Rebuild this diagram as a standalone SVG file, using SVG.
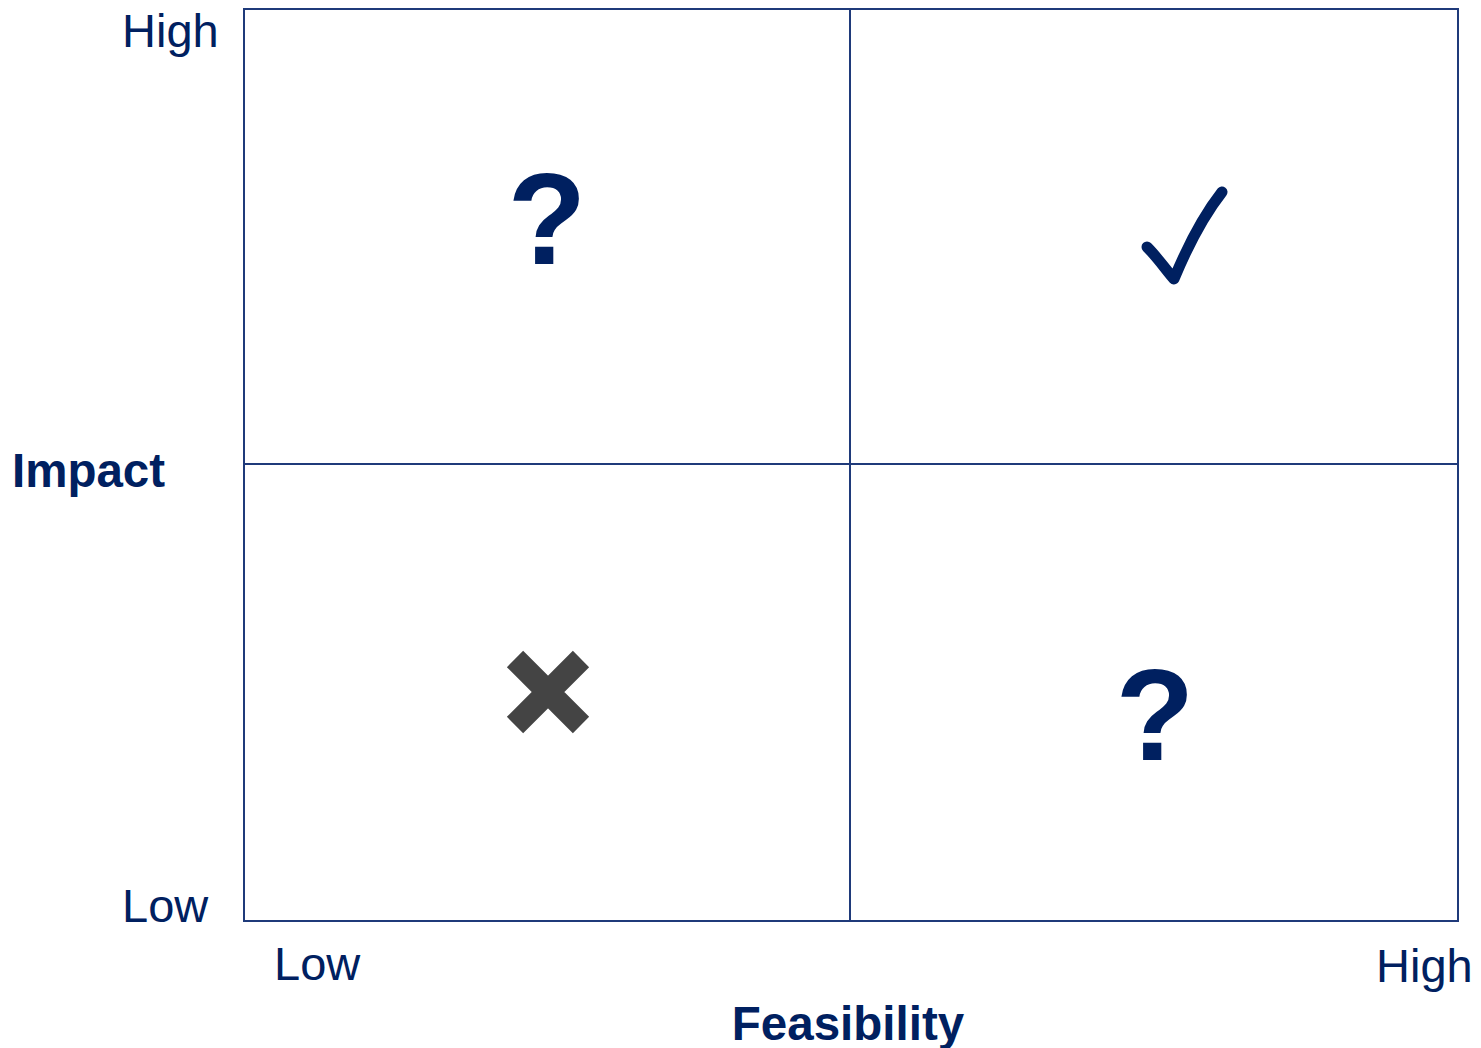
<svg xmlns="http://www.w3.org/2000/svg" width="1481" height="1048" viewBox="0 0 1481 1048">
<style>
.lbl{font-family:"Liberation Sans",Arial,sans-serif;font-size:47px;fill:#002060}
.ttl{font-family:"Liberation Sans",Arial,sans-serif;font-size:47.5px;font-weight:bold;fill:#002060}
.q{font-family:"Liberation Sans",Arial,sans-serif;font-size:129px;font-weight:bold;fill:#002060}
.grid{fill:none;stroke:#1f3a7a;stroke-width:2}
</style>
<rect width="1481" height="1048" fill="#fff"/>
<g id="connectors">
<rect class="grid" x="244" y="9" width="1214" height="912"/>
<line class="grid" x1="850" y1="9" x2="850" y2="921"/>
<line class="grid" x1="244" y1="464" x2="1458" y2="464"/>
</g>
<g id="axis-labels">
<text class="lbl" x="122" y="47">High</text>
<text class="lbl" x="122" y="922">Low</text>
<text class="lbl" x="274" y="980">Low</text>
<text class="lbl" x="1376" y="982">High</text>
<text class="ttl" x="12" y="487">Impact</text>
<text class="ttl" x="848" y="1040" text-anchor="middle">Feasibility</text>
</g>
<g id="q-top-left"><text class="q" x="547" y="264" text-anchor="middle">?</text></g>
<g id="check-top-right"><path d="M1147,247 C1158,258 1166,270 1174,279 C1186,250 1204,215 1222,192" fill="none" stroke="#002060" stroke-width="11" stroke-linecap="round" stroke-linejoin="round"/></g>
<g id="x-bottom-left"><path d="M515,659 L581,725 M581,659 L515,725" stroke="#444" stroke-width="23"/></g>
<g id="q-bottom-right"><text class="q" x="1155" y="760" text-anchor="middle">?</text></g>
</svg>
